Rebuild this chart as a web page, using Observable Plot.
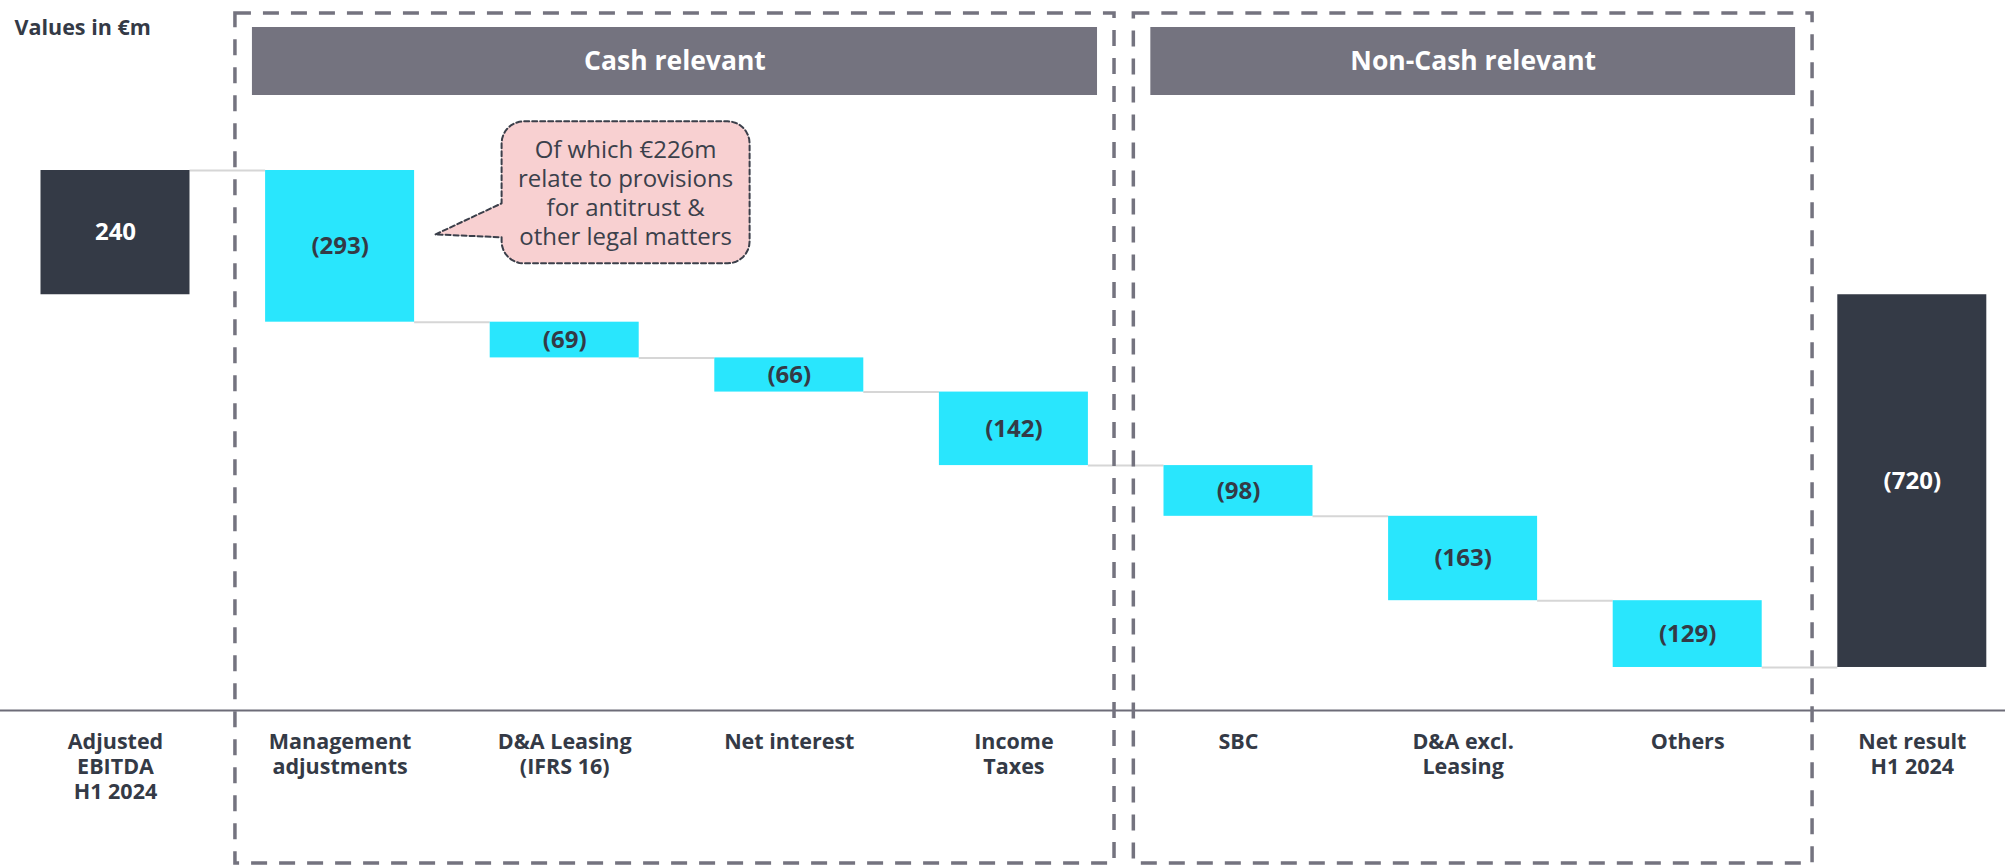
<!DOCTYPE html>
<html><head><meta charset="utf-8">
<script src="https://cdn.jsdelivr.net/npm/d3@7"></script>
<script src="https://cdn.jsdelivr.net/npm/@observablehq/plot@0.6"></script>
<style>
html,body{margin:0;padding:0;background:#fff;}
#chart svg{display:block;}
</style></head><body><div id="chart"></div>
<script>
// ---- data ----
const categories = ["Adjusted\nEBITDA\nH1 2024","Management\nadjustments","D&A Leasing\n(IFRS 16)","Net interest","Income\nTaxes","SBC","D&A excl.\nLeasing","Others","Net result\nH1 2024"];
const values = [240,-293,-69,-66,-142,-98,-163,-129,-720];
const kinds = ["total","delta","delta","delta","delta","delta","delta","delta","total"];
const valueLabels = ["240","(293)","(69)","(66)","(142)","(98)","(163)","(129)","(720)"];
const groupNames = ["Cash relevant","Non-Cash relevant"];
const groupFirst = [1,5];
const groupLast = [4,7];
const calloutLines = ["Of which €226m","relate to provisions","for antitrust &","other legal matters"];
const calloutFor = 1;
const unitLabel = "Values in €m";

// ---- layout ----
const W = 2005, H = 865, MB = 155;
const step = 224.6, c0 = 115;             // px per category, first centre
const hw = 74.5 / step;                    // half bar width in index units
const X0 = -c0 / step, X1 = (W - c0) / step;
const Ytop = 568.4, Ybot = -803.1;
const k = (H - MB) / (Ytop - Ybot);
const px2x = px => (px - c0) / step;
const py2y = py => Ytop - py / k;
const x2px = x => c0 + x * step;
const y2py = y => (Ytop - y) * k;

// waterfall
let run = 0;
const bars = values.map((v, i) => {
  let y1, y2;
  if (kinds[i] === "total") { y1 = 0; y2 = v; run = v; }
  else { y1 = run; y2 = run + v; run = y2; }
  return {i, cat: categories[i], y1, y2, kind: kinds[i], label: valueLabels[i]};
});
const connectors = bars.slice(0, -1).map(b => ({x1: b.i + hw, x2: b.i + 1 - hw, y: b.y2}));

const rightPad = [0.448, 0.556];
const groups = groupNames.map((name, g) => ({
  name, x1: groupFirst[g] - 0.466, x2: groupLast[g] + rightPad[g]
}));

// callout bubble anchored to the bar it comments
const cb = bars[calloutFor];
const ax = x2px(cb.i + hw), ay = y2py((cb.y1 + cb.y2) / 2);
const tip = [ax + 21, ay - 12];
const bx0 = ax + 87, bx1 = ax + 335, by0 = ay - 125, by1 = ay + 17, r = 22;
const pts = [];
function arc(cx, cy, a0, a1) {
  for (let s = 0; s <= 8; s++) {
    const a = a0 + (a1 - a0) * s / 8;
    pts.push([cx + r * Math.cos(a), cy + r * Math.sin(a)]);
  }
}
pts.push(tip);
pts.push([bx0, ay - 43]);
arc(bx0 + r, by0 + r, Math.PI, 1.5 * Math.PI);
arc(bx1 - r, by0 + r, 1.5 * Math.PI, 2 * Math.PI);
arc(bx1 - r, by1 - r, 0, 0.5 * Math.PI);
arc(bx0 + r, by1 - r, 0.5 * Math.PI, Math.PI);
pts.push([bx0, ay - 9]);
pts.push(tip);
const bubble = pts.map(([px, py]) => ({x: px2x(px), y: py2y(py)}));

const dark = "#343a46", cyan = "#29e6fd", gray = "#74737f";

const chart = Plot.plot({
  width: W, height: H,
  marginTop: 0, marginBottom: MB, marginLeft: 0, marginRight: 0,
  x: {type: "linear", domain: [X0, X1], axis: null},
  y: {domain: [Ybot, Ytop], axis: null},
  style: {fontFamily: "'Open Sans', sans-serif", background: "#fff"},
  marks: [
    Plot.ruleY(connectors, {x1: "x1", x2: "x2", y: "y", stroke: "#d6d6d6", strokeWidth: 2}),
    Plot.ruleY([Ybot], {stroke: "#6d6c78", strokeWidth: 2}),
    Plot.rect(groups, {x1: "x1", x2: "x2", y1: py2y(863), y2: py2y(13),
      fill: "none", stroke: gray, strokeWidth: 3.5, strokeDasharray: "16,12"}),
    Plot.rect(groups, {x1: "x1", x2: "x2", y1: py2y(95), y2: py2y(27),
      insetLeft: 17, insetRight: 17, fill: gray}),
    Plot.text(groups, {x: d => (d.x1 + d.x2) / 2, y: py2y(61), text: "name",
      fill: "white", fontSize: 26.5, fontWeight: 700}),
    Plot.rect(bars, {filter: d => d.kind === "total", x1: d => d.i - hw, x2: d => d.i + hw, y1: "y1", y2: "y2", fill: dark}),
    Plot.rect(bars, {filter: d => d.kind === "delta", x1: d => d.i - hw, x2: d => d.i + hw, y1: "y1", y2: "y2", fill: cyan}),
    Plot.text(bars, {filter: d => d.kind === "total", x: "i", y: d => (d.y1 + d.y2) / 2, text: "label",
      fill: "white", fontSize: 24, fontWeight: 700}),
    Plot.text(bars, {filter: d => d.kind === "delta", x: "i", y: d => (d.y1 + d.y2) / 2, text: "label",
      fill: dark, fontSize: 24, fontWeight: 700}),
    Plot.text(bars, {x: "i", y: () => Ybot, text: "cat", dy: 20.5, lineAnchor: "top",
      lineHeight: 1.163, fill: dark, fontSize: 21.5, fontWeight: 700}),
    Plot.line(bubble, {x: "x", y: "y", curve: "linear", fill: "#f8d0d1", stroke: "#3b3f4a",
      strokeWidth: 2, strokeDasharray: "5,3"}),
    Plot.text([calloutLines.join("\n")], {x: px2x((bx0 + bx1) / 2), y: py2y((by0 + by1) / 2),
      text: d => d, lineAnchor: "middle", lineHeight: 1.21, fill: "#3b404b", fontSize: 24, fontWeight: 400}),
    Plot.text([unitLabel], {frameAnchor: "top-left", dx: 14, dy: 19, lineAnchor: "top", textAnchor: "start",
      text: d => d, fill: dark, fontSize: 21.5, fontWeight: 700})
  ]
});
document.getElementById("chart").appendChild(chart);
</script></body></html>
